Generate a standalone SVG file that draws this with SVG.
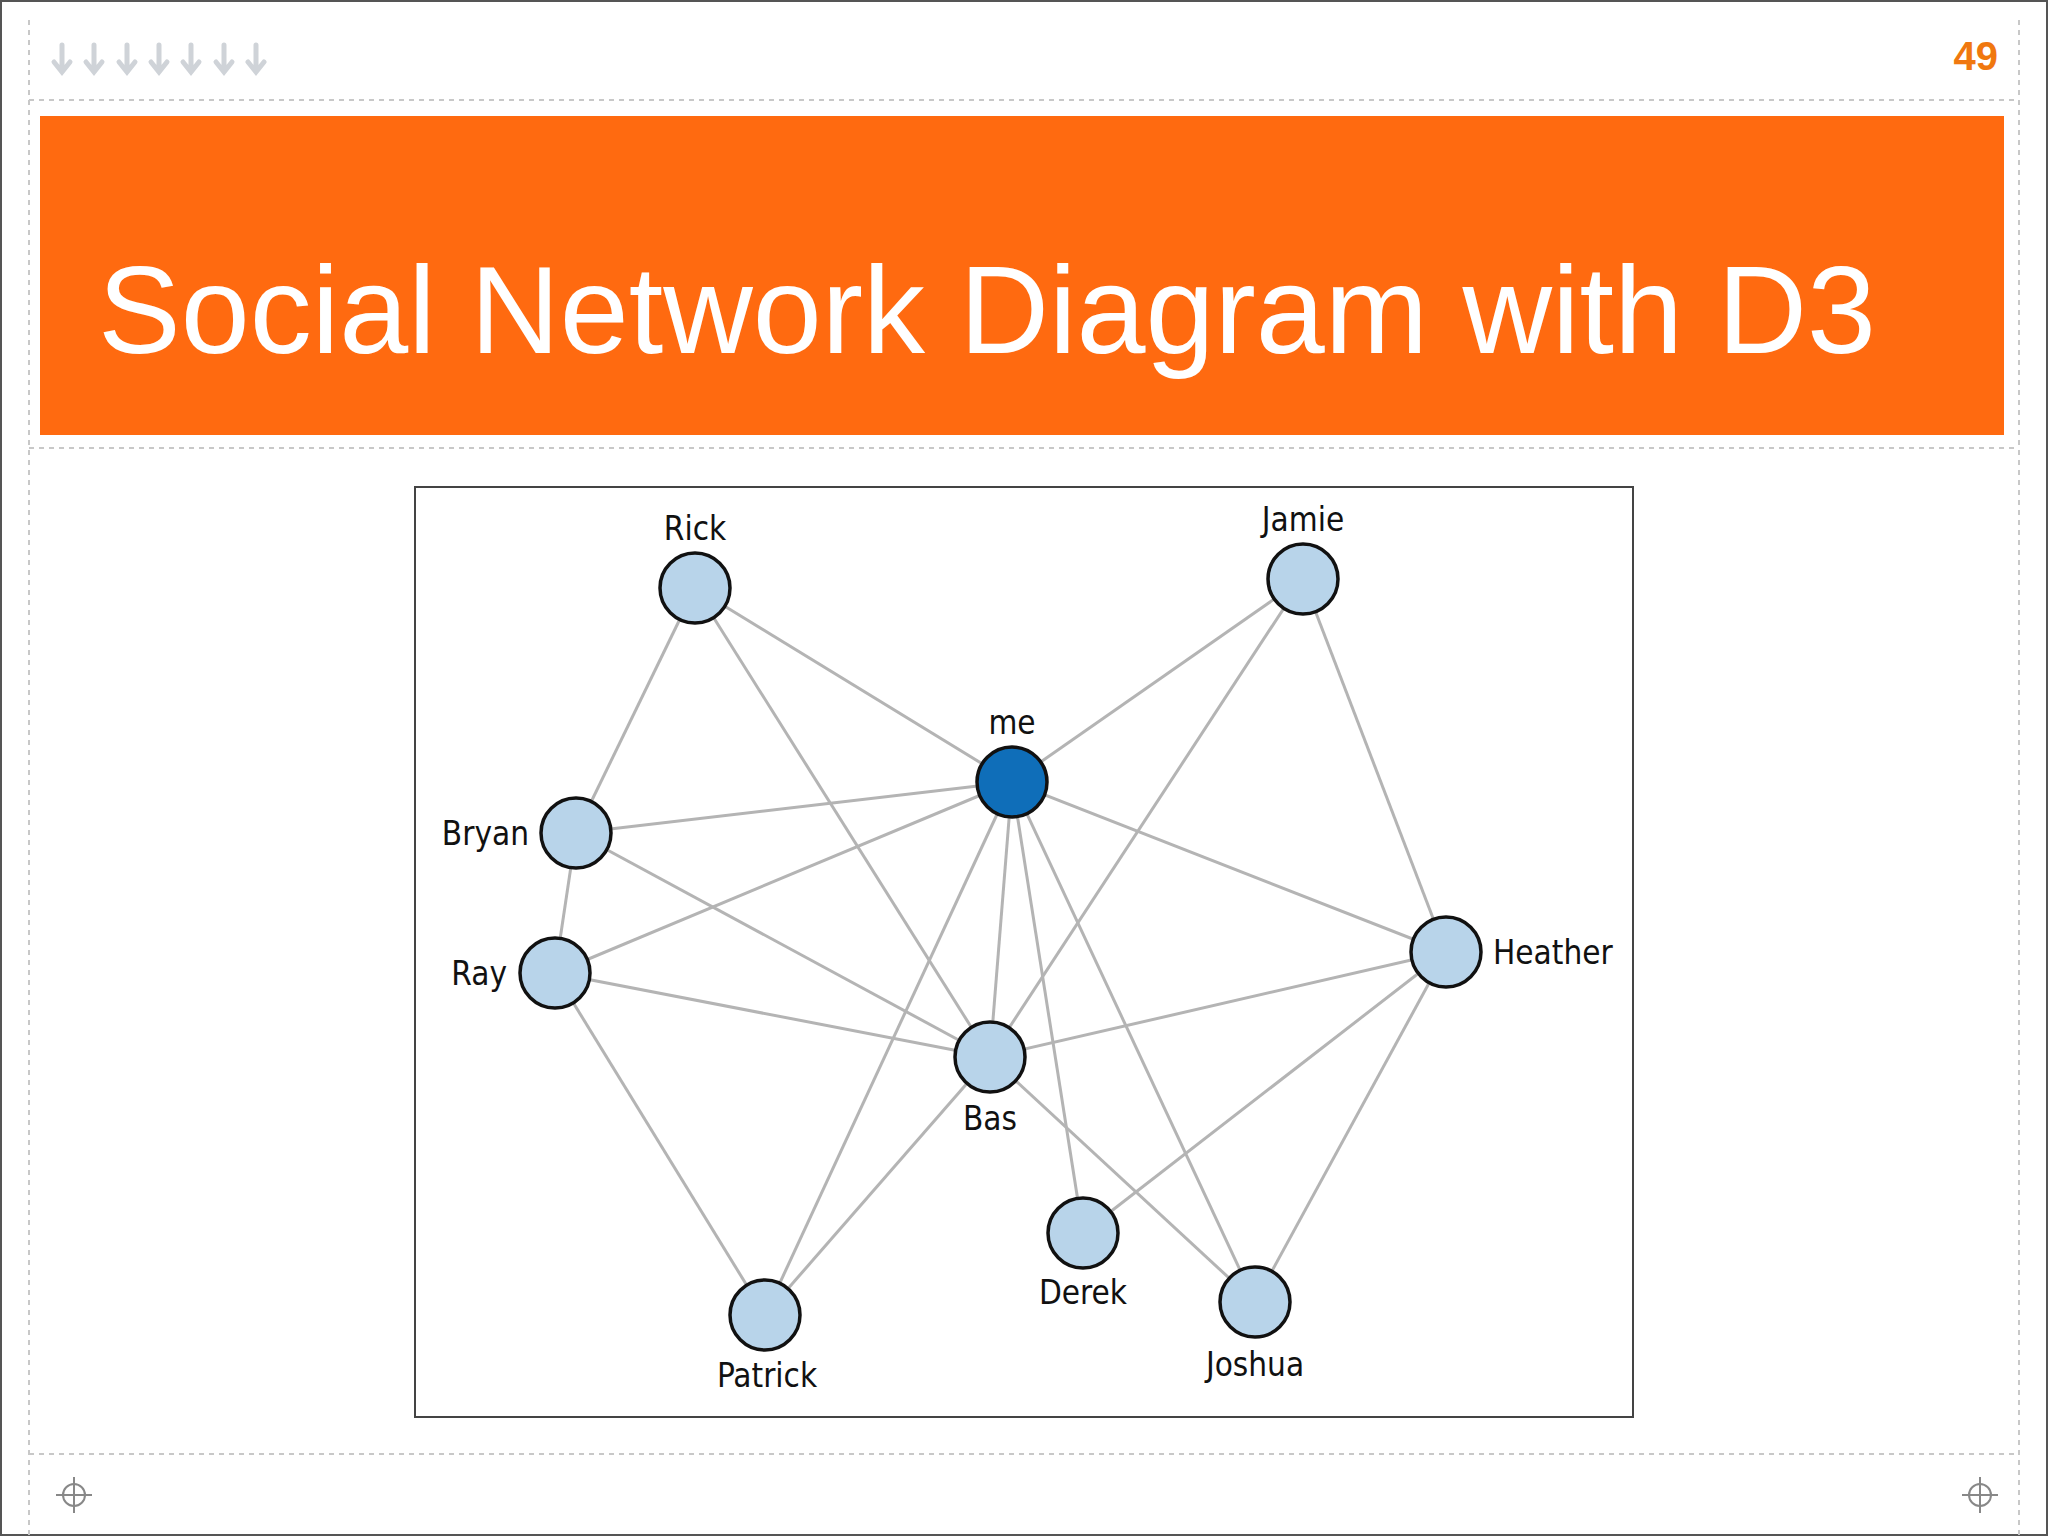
<svg xmlns="http://www.w3.org/2000/svg" width="2048" height="1536" viewBox="0 0 2048 1536">
<style>
.dash{stroke:#c8c8c8;stroke-width:2;stroke-dasharray:5 5;fill:none}
.e line{stroke:#b4b4b4;stroke-width:3}
.n{fill:#b8d4ea;stroke:#111;stroke-width:3.5}
.lbl{font-family:"DejaVu Sans Condensed","Liberation Sans",sans-serif;font-size:33px;fill:#111;dominant-baseline:central}
.arr{stroke:#cfd3d8;stroke-width:5;fill:none;stroke-linecap:round}
</style>
<rect x="1" y="1" width="2046" height="1534" fill="#fff" stroke="#555" stroke-width="2"/>
<line class="dash" x1="29" y1="20" x2="29" y2="1536"/>
<line class="dash" x1="2019" y1="20" x2="2019" y2="1536"/>
<line class="dash" x1="29" y1="100" x2="2019" y2="100"/>
<line class="dash" x1="29" y1="448" x2="2019" y2="448"/>
<line class="dash" x1="29" y1="1454" x2="2019" y2="1454"/>
<g id="arrows">
<path class="arr" d="M62 45v26M54 62l8 10 8-10"/>
<path class="arr" d="M94 45v26M86 62l8 10 8-10"/>
<path class="arr" d="M127 45v26M119 62l8 10 8-10"/>
<path class="arr" d="M159 45v26M151 62l8 10 8-10"/>
<path class="arr" d="M191 45v26M183 62l8 10 8-10"/>
<path class="arr" d="M224 45v26M216 62l8 10 8-10"/>
<path class="arr" d="M256 45v26M248 62l8 10 8-10"/>
</g>
<text x="1998" y="70" text-anchor="end" font-family="Liberation Sans,sans-serif" font-weight="bold" font-size="40" fill="#f0780f">49</text>
<rect x="40" y="116" width="1964" height="319" fill="#ff6a10"/>
<text x="98" y="353" font-family="Liberation Sans,sans-serif" font-size="124" fill="#fff">Social Network Diagram with D3</text>
<g stroke="#888" stroke-width="2" fill="none">
<circle cx="74" cy="1495" r="11"/><path d="M74 1477v36M56 1495h36"/>
<circle cx="1980" cy="1495" r="11"/><path d="M1980 1477v36M1962 1495h36"/>
</g>
<rect x="415" y="487" width="1218" height="930" fill="#fff" stroke="#444" stroke-width="2"/>
<g id="edges" class="e">
<line x1="695" y1="588" x2="576" y2="833"/>
<line x1="695" y1="588" x2="1012" y2="782"/>
<line x1="695" y1="588" x2="990" y2="1057"/>
<line x1="1303" y1="579" x2="1012" y2="782"/>
<line x1="1303" y1="579" x2="990" y2="1057"/>
<line x1="1303" y1="579" x2="1446" y2="952"/>
<line x1="1012" y1="782" x2="576" y2="833"/>
<line x1="1012" y1="782" x2="555" y2="973"/>
<line x1="1012" y1="782" x2="1446" y2="952"/>
<line x1="1012" y1="782" x2="990" y2="1057"/>
<line x1="1012" y1="782" x2="1083" y2="1233"/>
<line x1="1012" y1="782" x2="1255" y2="1302"/>
<line x1="1012" y1="782" x2="765" y2="1315"/>
<line x1="576" y1="833" x2="555" y2="973"/>
<line x1="576" y1="833" x2="990" y2="1057"/>
<line x1="555" y1="973" x2="990" y2="1057"/>
<line x1="555" y1="973" x2="765" y2="1315"/>
<line x1="1446" y1="952" x2="990" y2="1057"/>
<line x1="1446" y1="952" x2="1083" y2="1233"/>
<line x1="1446" y1="952" x2="1255" y2="1302"/>
<line x1="990" y1="1057" x2="765" y2="1315"/>
<line x1="990" y1="1057" x2="1255" y2="1302"/>
</g>
<g id="rick"><circle class="n" cx="695" cy="588" r="35"/><text class="lbl" x="695" y="528" text-anchor="middle">Rick</text></g>
<g id="jamie"><circle class="n" cx="1303" cy="579" r="35"/><text class="lbl" x="1303" y="519" text-anchor="middle">Jamie</text></g>
<g id="me"><circle class="n" cx="1012" cy="782" r="35" style="fill:#0f6eb9"/><text class="lbl" x="1012" y="722" text-anchor="middle">me</text></g>
<g id="bryan"><circle class="n" cx="576" cy="833" r="35"/><text class="lbl" x="529" y="833" text-anchor="end">Bryan</text></g>
<g id="ray"><circle class="n" cx="555" cy="973" r="35"/><text class="lbl" x="507" y="973" text-anchor="end">Ray</text></g>
<g id="heather"><circle class="n" cx="1446" cy="952" r="35"/><text class="lbl" x="1493" y="952">Heather</text></g>
<g id="bas"><circle class="n" cx="990" cy="1057" r="35"/><text class="lbl" x="990" y="1118" text-anchor="middle">Bas</text></g>
<g id="derek"><circle class="n" cx="1083" cy="1233" r="35"/><text class="lbl" x="1083" y="1292" text-anchor="middle">Derek</text></g>
<g id="joshua"><circle class="n" cx="1255" cy="1302" r="35"/><text class="lbl" x="1255" y="1364" text-anchor="middle">Joshua</text></g>
<g id="patrick"><circle class="n" cx="765" cy="1315" r="35"/><text class="lbl" x="767" y="1375" text-anchor="middle">Patrick</text></g>
</svg>
